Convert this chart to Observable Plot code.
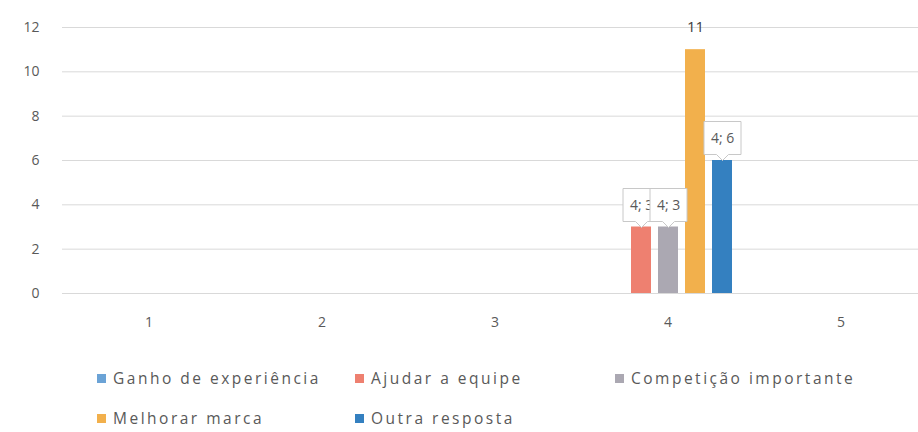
<!DOCTYPE html>
<html>
<head>
<meta charset="utf-8">
<script src="https://cdn.jsdelivr.net/npm/d3@7"></script>
<script src="https://cdn.jsdelivr.net/npm/@observablehq/plot@0.6"></script>
<style>
  html, body { margin: 0; padding: 0; background: #ffffff; }
  #chart { width: 918px; height: 432px; overflow: hidden; font-family: "Open Sans", sans-serif; }
  .legend { display: grid; grid-template-columns: 258px 260px auto; grid-auto-rows: 40px;
            padding-left: 97px; margin-top: 18px; color: #595959; font-size: 15.5px; letter-spacing: 2.5px; }
  .legend .item { display: flex; align-items: center; white-space: nowrap; }
  .legend .sw { width: 9px; height: 9px; margin-right: 7px; flex: none; }
</style>
</head>
<body>
<div id="chart"></div>
<script>
const categories = ["1", "2", "3", "4", "5"];
const seriesNames = ["Ganho de experiência", "Ajudar a equipe", "Competição importante", "Melhorar marca", "Outra resposta"];
const ganhoValues = [0, 0, 0, 0, 0];
const ajudarValues = [0, 0, 0, 3, 0];
const competicaoValues = [0, 0, 0, 3, 0];
const melhorarValues = [0, 0, 0, 11, 0];
const outraValues = [0, 0, 0, 6, 0];
const seriesColors = ["#6BA3D6", "#EE8070", "#ABA8B2", "#F2B04C", "#3480C0"];
const yTicks = [0, 2, 4, 6, 8, 10, 12];
const calloutSeries = ["Ajudar a equipe", "Competição importante", "Outra resposta"];
const plainLabelSeries = ["Melhorar marca"];

const allValues = [ganhoValues, ajudarValues, competicaoValues, melhorarValues, outraValues];
const rows = [];
categories.forEach((c, i) => {
  seriesNames.forEach((s, j) => {
    rows.push({category: c, series: s, value: allValues[j][i]});
  });
});
const labeled = rows.filter(d => d.value > 0);
const calloutRows = labeled.filter(d => calloutSeries.includes(d.series))
  .map(d => ({...d, label: `${d.category}; ${d.value}`}));
const plainRows = labeled.filter(d => plainLabelSeries.includes(d.series))
  .map(d => ({...d, label: `${d.value}`}));

const chart = Plot.plot({
  width: 918,
  height: 340,
  marginTop: 27,
  marginBottom: 47,
  marginLeft: 60,
  marginRight: -11,
  style: {fontFamily: "'Open Sans', sans-serif", color: "#595959", background: "white", overflow: "hidden"},
  fx: {domain: categories, padding: 0, label: null},
  x: {domain: seriesNames, paddingInner: 0.26, paddingOuter: 0.72, axis: null},
  y: {domain: [0, 12], label: null},
  color: {domain: seriesNames, range: seriesColors},
  marks: [
    Plot.ruleY(yTicks, {stroke: "#d9d9d9", strokeWidth: 1}),
    Plot.axisY({ticks: yTicks, tickSize: 0, tickPadding: 23, fontSize: 14, label: null, color: "#595959"}),
    Plot.axisFx({anchor: "bottom", tickSize: 0, tickPadding: 24, fontSize: 14, label: null, color: "#595959"}),
    Plot.barY(rows, {fx: "category", x: "series", y: "value", fill: "series"}),
    Plot.text(plainRows, {fx: "category", x: "series", y: "value", text: "label", dy: -18,
      lineAnchor: "bottom", fontSize: 15, fill: "#404040"}),
    Plot.tip(calloutRows, {fx: "category", x: "series", y: "value", title: "label", anchor: "bottom",
      fontSize: 14, fill: "white", stroke: "#c8c8c8", pathFilter: "none", textPadding: 7})
  ]
});

const root = document.getElementById("chart");
root.appendChild(chart);

const legend = document.createElement("div");
legend.className = "legend";
seriesNames.forEach((s, i) => {
  const item = document.createElement("div");
  item.className = "item";
  const sw = document.createElement("span");
  sw.className = "sw";
  sw.style.background = seriesColors[i];
  const t = document.createElement("span");
  t.textContent = s;
  item.appendChild(sw);
  item.appendChild(t);
  legend.appendChild(item);
});
root.appendChild(legend);
</script>
</body>
</html>
